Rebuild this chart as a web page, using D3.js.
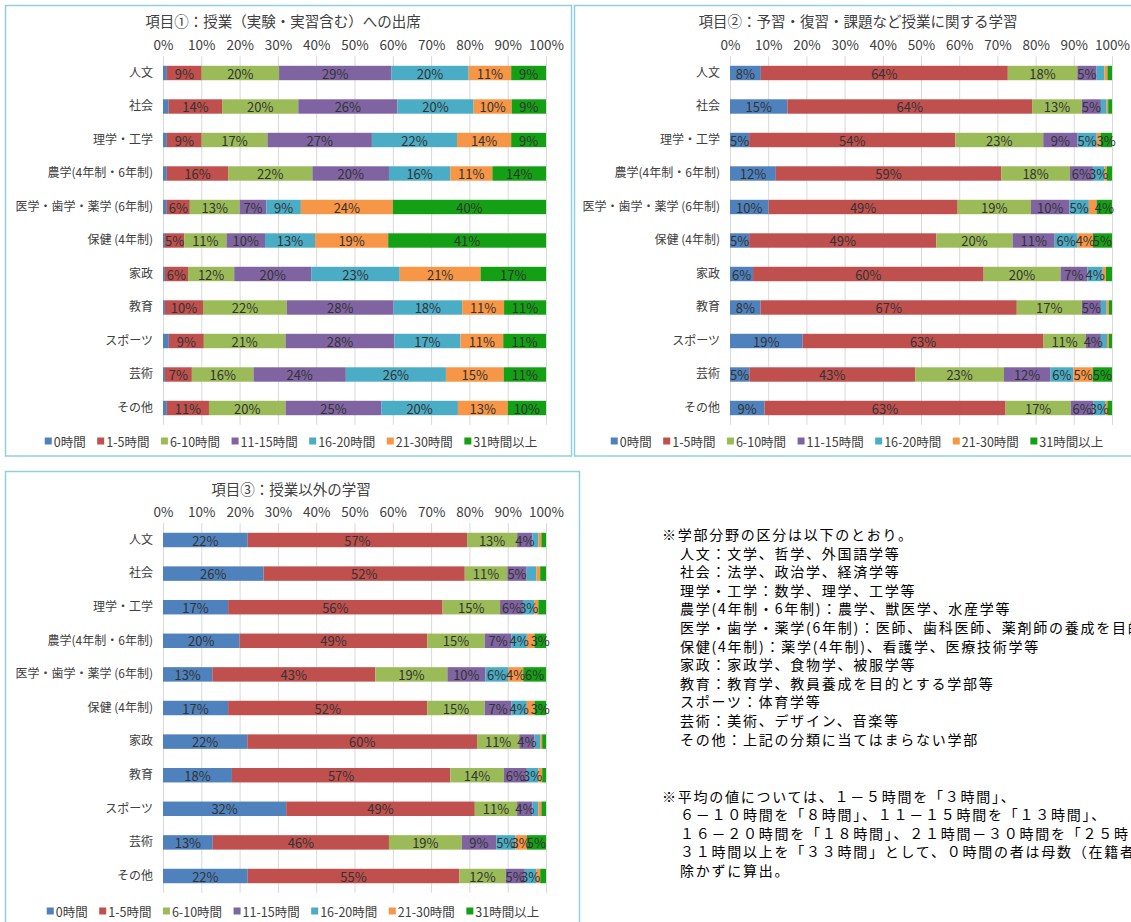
<!DOCTYPE html>
<html>
<head>
<meta charset="utf-8">
<script src="https://cdn.jsdelivr.net/npm/d3@7"></script>
<style>
  body { margin: 0; background: #fff; }
  svg { display: block; font-family: "Noto Sans CJK JP", "Noto Sans", sans-serif; }
</style>
</head>
<body>
<svg id="chart" width="1131" height="922"></svg>
<script>
// Faculty groups (rows of every panel)
const categories = [
  "人文", "社会", "理学・工学", "農学(4年制・6年制)", "医学・歯学・薬学 (6年制)",
  "保健 (4年制)", "家政", "教育", "スポーツ", "芸術", "その他"
];

// Weekly hour bands (stack order, left to right)
const hourBands = ["0時間", "1-5時間", "6-10時間", "11-15時間", "16-20時間", "21-30時間", "31時間以上"];
const bandColors = ["#4f81bd", "#c0504d", "#9bbb59", "#8064a2", "#4bacc6", "#f79646", "#14a014"];

const percentTicks = [0, 0.1, 0.2, 0.3, 0.4, 0.5, 0.6, 0.7, 0.8, 0.9, 1];

// 項目①: class attendance (%), one row per faculty group, columns follow hourBands
const attendance = [
  [1, 9, 20, 29, 20, 11, 9],
  [1.5, 14, 20, 26, 20, 10, 9],
  [1, 9, 17, 27, 22, 14, 9],
  [1, 16, 22, 20, 16, 11, 14],
  [1, 6, 13, 7, 9, 24, 40],
  [0.5, 5, 11, 10, 13, 19, 41],
  [0.5, 6, 12, 20, 23, 21, 17],
  [0.5, 10, 22, 28, 18, 11, 11],
  [1.5, 9, 21, 28, 17, 11, 11],
  [0.5, 7, 16, 24, 26, 15, 11],
  [1, 11, 20, 25, 20, 13, 10]
];

// 項目②: preparation, review and assignments (%)
const classStudy = [
  [8, 64, 18, 5, 2, 0.8, 1.2],
  [15, 64, 13, 5, 1.5, 0.4, 1],
  [5, 54, 23, 9, 5, 1, 3],
  [12, 59, 18, 6, 3, 0.6, 1.4],
  [10, 49, 19, 10, 5, 2, 4],
  [5, 49, 20, 11, 6, 4, 5],
  [6, 60, 20, 7, 4, 0.8, 1.6],
  [8, 67, 17, 5, 1.5, 0.6, 0.8],
  [19, 63, 11, 4, 1.6, 0.5, 0.8],
  [5, 43, 23, 12, 6, 5, 5],
  [9, 63, 17, 6, 3, 0.6, 1.2]
];

// 項目③: study outside of classes (%)
const selfStudy = [
  [22, 57, 13, 4, 1.5, 0.8, 1.2],
  [26, 52, 11, 5, 2.5, 1, 1.5],
  [17, 56, 15, 6, 3, 1, 2],
  [20, 49, 15, 7, 4, 2, 3],
  [13, 43, 19, 10, 6, 4, 6],
  [17, 52, 15, 7, 4, 2, 3],
  [22, 60, 11, 4, 1.5, 0.5, 1],
  [18, 57, 14, 6, 3, 1, 1],
  [32, 49, 11, 4, 1.5, 0.8, 1.2],
  [13, 46, 19, 9, 5, 3, 5],
  [22, 55, 12, 5, 3, 1, 1.5]
];

const panelTitles = [
  "項目①：授業（実験・実習含む）への出席",
  "項目②：予習・復習・課題など授業に関する学習",
  "項目③：授業以外の学習"
];

const facultyNotes = [
  "※学部分野の区分は以下のとおり。",
  "人文：文学、哲学、外国語学等",
  "社会：法学、政治学、経済学等",
  "理学・工学：数学、理学、工学等",
  "農学(4年制・6年制)：農学、獣医学、水産学等",
  "医学・歯学・薬学(6年制)：医師、歯科医師、薬剤師の養成を目的",
  "保健(4年制)：薬学(4年制)、看護学、医療技術学等",
  "家政：家政学、食物学、被服学等",
  "教育：教育学、教員養成を目的とする学部等",
  "スポーツ：体育学等",
  "芸術：美術、デザイン、音楽等",
  "その他：上記の分類に当てはまらない学部"
];

const averageNotes = [
  "※平均の値については、１－５時間を「３時間」、",
  "６－１０時間を「８時間」、１１－１５時間を「１３時間」、",
  "１６－２０時間を「１８時間」、２１時間－３０時間を「２５時",
  "３１時間以上を「３３時間」として、０時間の者は母数（在籍者",
  "除かずに算出。"
];

const svg = d3.select("#chart");
const textColor = "#404040";
const frameColor = "#8fd0de";

function drawPanel(cfg) {
  const g = svg.append("g");

  g.append("rect")
    .attr("x", cfg.frame[0]).attr("y", cfg.frame[1])
    .attr("width", cfg.frame[2]).attr("height", cfg.frame[3])
    .attr("fill", "#fff").attr("stroke", frameColor).attr("stroke-width", 1.5);

  const table = cfg.rows.map((r, i) => {
    const o = { category: categories[i] };
    hourBands.forEach((b, j) => { o[b] = r[j]; });
    return o;
  });
  const layers = d3.stack().keys(hourBands).offset(d3.stackOffsetExpand)(table);

  const x = d3.scaleLinear().domain([0, 1]).range([cfg.x0, cfg.x1]);
  const y = d3.scaleBand().domain(categories)
    .range([cfg.yTop, cfg.yBottom]).paddingInner(0.57).paddingOuter(0.285);

  // title
  g.append("text")
    .attr("x", cfg.titleX).attr("y", cfg.titleY)
    .attr("text-anchor", "middle").attr("dominant-baseline", "central")
    .attr("font-size", 14.5).attr("fill", textColor)
    .text(cfg.title);

  // percent axis with vertical gridlines
  const xAxis = g.append("g")
    .attr("transform", `translate(0,${cfg.yTop})`)
    .call(d3.axisTop(x).tickValues(percentTicks)
      .tickFormat(d3.format(".0%"))
      .tickSize(-(cfg.yBottom - cfg.yTop)).tickPadding(6));
  xAxis.select(".domain").remove();
  xAxis.selectAll(".tick line").attr("stroke", "#d9d9d9").attr("stroke-width", 1);
  xAxis.selectAll(".tick text")
    .attr("font-size", 13.5).attr("fill", textColor)
    .attr("font-family", "\"Noto Sans CJK JP\", sans-serif");

  // category axis
  const yAxis = g.append("g")
    .attr("transform", `translate(${cfg.x0},0)`)
    .call(d3.axisLeft(y).tickSize(0).tickPadding(10));
  yAxis.select(".domain").remove();
  yAxis.selectAll(".tick text")
    .attr("font-size", 12).attr("fill", textColor)
    .attr("font-family", "\"Noto Sans CJK JP\", sans-serif");

  // stacked segments
  const layerG = g.append("g").selectAll("g").data(layers).join("g")
    .attr("fill", (d, i) => bandColors[i]);
  layerG.selectAll("rect").data(d => d).join("rect")
    .attr("x", d => x(d[0]))
    .attr("y", d => y(d.data.category))
    .attr("width", d => x(d[1]) - x(d[0]))
    .attr("height", y.bandwidth());

  // value labels, drawn on top of all segments
  const labelG = g.append("g");
  layers.forEach((layer, li) => {
    layer.forEach(d => {
      const v = d.data[hourBands[li]];
      if (v < 3) return;
      labelG.append("text")
        .attr("x", (x(d[0]) + x(d[1])) / 2)
        .attr("y", y(d.data.category) + y.bandwidth() / 2)
        .attr("text-anchor", "middle").attr("dominant-baseline", "central")
        .attr("font-size", 13).attr("fill", "#333")
        .text(v + "%");
    });
  });

  // legend
  const legend = g.append("g").attr("transform", `translate(0,${cfg.legendY})`);
  const gap = 11.5, marker = 7;
  let cx = 0;
  hourBands.forEach((b, i) => {
    const item = legend.append("g").attr("transform", `translate(${cx},0)`);
    item.append("rect").attr("x", 0).attr("y", -marker / 2)
      .attr("width", marker).attr("height", marker).attr("fill", bandColors[i]);
    const t = item.append("text").attr("x", marker + 2).attr("y", 0)
      .attr("dominant-baseline", "central")
      .attr("font-size", 12.5).attr("fill", textColor).text(b);
    cx += marker + 2 + t.node().getComputedTextLength() + gap;
  });
  const total = cx - gap;
  legend.attr("transform", `translate(${cfg.legendX - total / 2},${cfg.legendY})`);
}

drawPanel({
  title: panelTitles[0], rows: attendance,
  frame: [5.5, 5.5, 566, 450.5],
  x0: 163, x1: 546, yTop: 56.25, yBottom: 424.75,
  titleX: 283, titleY: 20, legendX: 291, legendY: 441
});
drawPanel({
  title: panelTitles[1], rows: classStudy,
  frame: [574.5, 5.5, 570, 450.5],
  x0: 730, x1: 1112, yTop: 56.25, yBottom: 424.75,
  titleX: 858, titleY: 20, legendX: 857, legendY: 441
});
drawPanel({
  title: panelTitles[2], rows: selfStudy,
  frame: [5.5, 471.5, 574, 460],
  x0: 163, x1: 546, yTop: 523.2, yBottom: 892.8,
  titleX: 291, titleY: 488, legendX: 293, legendY: 911
});

// explanatory notes
const notes = svg.append("g")
  .attr("font-size", 14).attr("fill", "#000").attr("letter-spacing", "1.75px");
facultyNotes.forEach((line, i) => {
  notes.append("text")
    .attr("x", i === 0 ? 662 : 680).attr("y", 534 + i * 18.6)
    .attr("dominant-baseline", "central").text(line);
});
averageNotes.forEach((line, i) => {
  notes.append("text")
    .attr("x", i === 0 ? 662 : 680).attr("y", 796 + i * 18.4)
    .attr("dominant-baseline", "central").text(line);
});
</script>
</body>
</html>
